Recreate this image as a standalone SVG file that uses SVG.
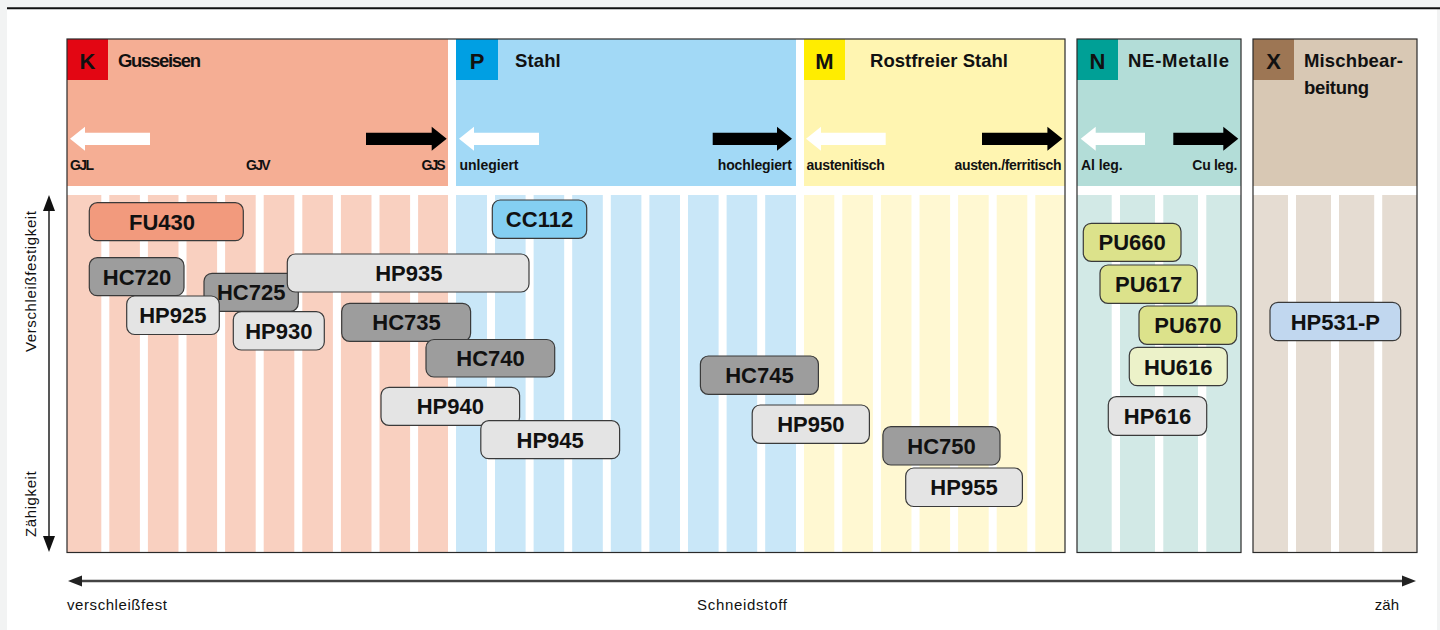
<svg xmlns="http://www.w3.org/2000/svg" width="1440" height="630" viewBox="0 0 1440 630">
<style>
.hdr{font-family:"Liberation Sans",Arial,sans-serif;font-weight:bold;font-size:18.5px;fill:#111}
.code{font-family:"Liberation Sans",Arial,sans-serif;font-weight:bold;font-size:22px;fill:#111;text-anchor:middle}
.sub{font-family:"Liberation Sans",Arial,sans-serif;font-weight:bold;font-size:14px;fill:#111}
.ax{font-family:"Liberation Sans",Arial,sans-serif;font-size:15px;fill:#111}
.nb{stroke:#3a3a3a;stroke-width:1.2}
.nt{font-family:"Liberation Sans",Arial,sans-serif;font-weight:bold;font-size:22px;fill:#111;text-anchor:middle}
.gap{fill:#fff}
.frame{fill:none;stroke:#2a2a2a;stroke-width:1.2}
.wa{fill:#fff}
.ba{fill:#000}
.grey{fill:#9d9d9d}
.light{fill:#e4e4e4}
</style>
<rect x="0" y="0" width="1440" height="630" fill="#f2f3f3"/>
<rect x="7" y="9" width="1430" height="621" fill="#fff"/>
<line x1="7" y1="8.3" x2="1440" y2="8.3" stroke="#111" stroke-width="2"/>

<g id="sec-K">
<rect x="67" y="39" width="381" height="147" fill="#f5ae94"/>
<rect x="67" y="39" width="41" height="41" fill="#e30613"/>
<text class="code" x="87.5" y="69">K</text>
<text class="hdr" x="118" y="67" textLength="83">Gusseisen</text>
<polygon class="wa" points="70,138.7 85,126.7 85,132.7 150,132.7 150,145 85,145 85,150.7"/>
<polygon class="ba" points="366,132.7 431.7,132.7 431.7,126.7 446.7,138.7 431.7,150.7 431.7,145 366,145"/>
<text class="sub" x="70" y="169.5" textLength="24">GJL</text>
<text class="sub" x="246" y="169.5" textLength="24.5">GJV</text>
<text class="sub" x="421.5" y="169.5" textLength="24.2">GJS</text>
<rect x="67" y="195" width="381" height="357.5" fill="#f9d0c0"/>
<rect class="gap" x="101.3" y="195" width="8" height="357.5"/>
<rect class="gap" x="139.9" y="195" width="8" height="357.5"/>
<rect class="gap" x="178.5" y="195" width="8" height="357.5"/>
<rect class="gap" x="217.1" y="195" width="8" height="357.5"/>
<rect class="gap" x="255.7" y="195" width="8" height="357.5"/>
<rect class="gap" x="294.3" y="195" width="8" height="357.5"/>
<rect class="gap" x="332.9" y="195" width="8" height="357.5"/>
<rect class="gap" x="371.5" y="195" width="8" height="357.5"/>
<rect class="gap" x="410.1" y="195" width="8" height="357.5"/>
</g>

<g id="sec-P">
<rect x="456" y="39" width="340" height="147" fill="#a2d9f6"/>
<rect x="456" y="39" width="42" height="41" fill="#009fe3"/>
<text class="code" x="477" y="69">P</text>
<text class="hdr" x="515" y="67" textLength="45.7">Stahl</text>
<polygon class="wa" points="459,138.7 474,126.7 474,132.7 539,132.7 539,145 474,145 474,150.7"/>
<polygon class="ba" points="712.7,132.7 777,132.7 777,126.7 792,138.7 777,150.7 777,145 712.7,145"/>
<text class="sub" x="459.5" y="169.5" textLength="59">unlegiert</text>
<text class="sub" x="717.8" y="169.5" textLength="74">hochlegiert</text>
<rect x="456" y="195" width="340" height="357.5" fill="#c9e7f8"/>
<rect class="gap" x="487" y="195" width="8" height="357.5"/>
<rect class="gap" x="525.6" y="195" width="8" height="357.5"/>
<rect class="gap" x="564.2" y="195" width="8" height="357.5"/>
<rect class="gap" x="602.8" y="195" width="8" height="357.5"/>
<rect class="gap" x="641.4" y="195" width="8" height="357.5"/>
<rect class="gap" x="680" y="195" width="8" height="357.5"/>
<rect class="gap" x="718.6" y="195" width="8" height="357.5"/>
<rect class="gap" x="757.2" y="195" width="8" height="357.5"/>
</g>

<g id="sec-M">
<rect x="804" y="39" width="261" height="147" fill="#fff5b1"/>
<rect x="804" y="39" width="41" height="41" fill="#ffed00"/>
<text class="code" x="824.5" y="69">M</text>
<text class="hdr" x="870" y="67" textLength="138">Rostfreier Stahl</text>
<polygon class="wa" points="806,138.7 821,126.7 821,132.7 885.7,132.7 885.7,145 821,145 821,150.7"/>
<polygon class="ba" points="982,132.7 1047.4,132.7 1047.4,126.7 1062.4,138.7 1047.4,150.7 1047.4,145 982,145"/>
<text class="sub" x="806.5" y="169.5" textLength="78.4">austenitisch</text>
<text class="sub" x="954.5" y="169.5" textLength="107">austen./ferritisch</text>
<rect x="804" y="195" width="261" height="357.5" fill="#fff8d2"/>
<rect class="gap" x="834.3" y="195" width="8" height="357.5"/>
<rect class="gap" x="872.9" y="195" width="8" height="357.5"/>
<rect class="gap" x="911.5" y="195" width="8" height="357.5"/>
<rect class="gap" x="950.1" y="195" width="8" height="357.5"/>
<rect class="gap" x="988.7" y="195" width="8" height="357.5"/>
<rect class="gap" x="1027.3" y="195" width="8" height="357.5"/>
</g>
<rect class="frame" x="67" y="39" width="998" height="513.5"/>

<g id="sec-N">
<rect x="1077" y="39" width="164" height="147" fill="#b3ddd8"/>
<rect x="1077" y="39" width="41" height="41" fill="#00a096"/>
<text class="code" x="1097.5" y="69">N</text>
<text class="hdr" x="1128" y="67" textLength="101">NE-Metalle</text>
<polygon class="wa" points="1080.7,138.7 1095.7,126.7 1095.7,132.7 1145,132.7 1145,145 1095.7,145 1095.7,150.7"/>
<polygon class="ba" points="1173.3,132.7 1223.3,132.7 1223.3,126.7 1238.3,138.7 1223.3,150.7 1223.3,145 1173.3,145"/>
<text class="sub" x="1081" y="169.5" textLength="41.7">Al leg.</text>
<text class="sub" x="1192.3" y="169.5" textLength="45">Cu leg.</text>
<rect x="1077" y="195" width="164" height="357.5" fill="#d2e9e6"/>
<rect class="gap" x="1111.7" y="195" width="8.3" height="357.5"/>
<rect class="gap" x="1155" y="195" width="8.3" height="357.5"/>
<rect class="gap" x="1198" y="195" width="8.3" height="357.5"/>
<rect class="frame" x="1077" y="39" width="164" height="513.5"/>
</g>

<g id="sec-X">
<rect x="1253" y="39" width="164" height="147" fill="#d8c8b4"/>
<rect x="1253" y="39" width="41" height="41" fill="#9d7654"/>
<text class="code" x="1273.5" y="69">X</text>
<text class="hdr" x="1304" y="67" textLength="99">Mischbear-</text>
<text class="hdr" x="1304" y="94" textLength="65">beitung</text>
<rect x="1253" y="195" width="164" height="357.5" fill="#e5dcd2"/>
<rect class="gap" x="1288" y="195" width="8" height="357.5"/>
<rect class="gap" x="1331" y="195" width="8" height="357.5"/>
<rect class="gap" x="1374.2" y="195" width="8" height="357.5"/>
<rect class="frame" x="1253" y="39" width="164" height="513.5"/>
</g>

<g id="connectors">
<line x1="49" y1="208" x2="49" y2="540" stroke="#111" stroke-width="1.4"/>
<polygon points="49,195 43,211 55,211" fill="#111"/>
<polygon points="49,552 43,536 55,536" fill="#111"/>
<line x1="80" y1="581" x2="1404" y2="581" stroke="#444" stroke-width="2.5"/>
<polygon points="68,581 82,575.5 82,586.5" fill="#222"/>
<polygon points="1416,581 1402,575.5 1402,586.5" fill="#222"/>
</g>

<g id="axis-labels">
<text class="ax" transform="translate(36,352) rotate(-90)" textLength="141">Verschleißfestigkeit</text>
<text class="ax" transform="translate(36,537) rotate(-90)" textLength="65.7">Zähigkeit</text>
<text class="ax" x="67" y="610" textLength="100">verschleißfest</text>
<text class="ax" x="697" y="610" textLength="90">Schneidstoff</text>
<text class="ax" x="1399" y="610" text-anchor="end">zäh</text>
</g>

<g id="FU430"><rect class="nb" x="89.3" y="202.7" width="154" height="38" rx="8" fill="#f29a7d"/><text class="nt" x="162" y="229.7">FU430</text></g>
<g id="HC720"><rect class="nb grey" x="89.3" y="257.7" width="94.7" height="38" rx="8"/><text class="nt" x="137" y="284.7">HC720</text></g>
<g id="HC725"><rect class="nb grey" x="204" y="273.3" width="94.3" height="38" rx="8"/><text class="nt" x="251.2" y="300.3">HC725</text></g>
<g id="HP925"><rect class="nb light" x="126.7" y="296" width="92.6" height="38.5" rx="8"/><text class="nt" x="172.8" y="323.2">HP925</text></g>
<g id="HP930"><rect class="nb light" x="233.3" y="311.7" width="91" height="38.3" rx="8"/><text class="nt" x="278.8" y="338.8">HP930</text></g>
<g id="HP935"><rect class="nb light" x="287.3" y="254" width="241.7" height="38" rx="8"/><text class="nt" x="408.8" y="281">HP935</text></g>
<g id="HC735"><rect class="nb grey" x="341.7" y="303.3" width="128.9" height="38" rx="8"/><text class="nt" x="406.5" y="330.3">HC735</text></g>
<g id="HC740"><rect class="nb grey" x="426" y="339.5" width="128.7" height="37.5" rx="8"/><text class="nt" x="490.5" y="366.3">HC740</text></g>
<g id="HP940"><rect class="nb light" x="381" y="387.3" width="138.6" height="38" rx="8"/><text class="nt" x="450.3" y="414.3">HP940</text></g>
<g id="HP945"><rect class="nb light" x="480.8" y="420.7" width="138.8" height="38" rx="8"/><text class="nt" x="550.2" y="447.7">HP945</text></g>
<g id="CC112"><rect class="nb" x="492.3" y="200" width="94.4" height="38.3" rx="8" fill="#84cff2"/><text class="nt" x="539.5" y="227.2">CC112</text></g>
<g id="HC745"><rect class="nb grey" x="700.4" y="356" width="118" height="38.3" rx="8"/><text class="nt" x="759.4" y="383.2">HC745</text></g>
<g id="HP950"><rect class="nb light" x="752.2" y="405" width="117.2" height="38.3" rx="8"/><text class="nt" x="810.8" y="432.2">HP950</text></g>
<g id="HC750"><rect class="nb grey" x="882.9" y="426.7" width="117.1" height="38.3" rx="8"/><text class="nt" x="941.5" y="453.9">HC750</text></g>
<g id="HP955"><rect class="nb light" x="905.7" y="468" width="116.7" height="38.5" rx="8"/><text class="nt" x="964" y="495.2">HP955</text></g>
<g id="PU660"><rect class="nb" x="1083.3" y="223.3" width="97.7" height="38" rx="8" fill="#dce28b"/><text class="nt" x="1132.2" y="250.3">PU660</text></g>
<g id="PU617"><rect class="nb" x="1100" y="265" width="97.3" height="38.3" rx="8" fill="#dce28b"/><text class="nt" x="1148.7" y="292.2">PU617</text></g>
<g id="PU670"><rect class="nb" x="1139" y="306" width="97.7" height="38.3" rx="8" fill="#dce28b"/><text class="nt" x="1187.9" y="333.2">PU670</text></g>
<g id="HU616"><rect class="nb" x="1129.3" y="347.3" width="98" height="38.4" rx="8" fill="#ecf2c9"/><text class="nt" x="1178.3" y="374.5">HU616</text></g>
<g id="HP616"><rect class="nb light" x="1108.3" y="396.7" width="98.4" height="38.6" rx="8"/><text class="nt" x="1157.5" y="424">HP616</text></g>
<g id="HP531-P"><rect class="nb" x="1270" y="302.3" width="130.7" height="38.4" rx="8" fill="#c1d7ef"/><text class="nt" x="1335.3" y="329.5">HP531-P</text></g>
</svg>
